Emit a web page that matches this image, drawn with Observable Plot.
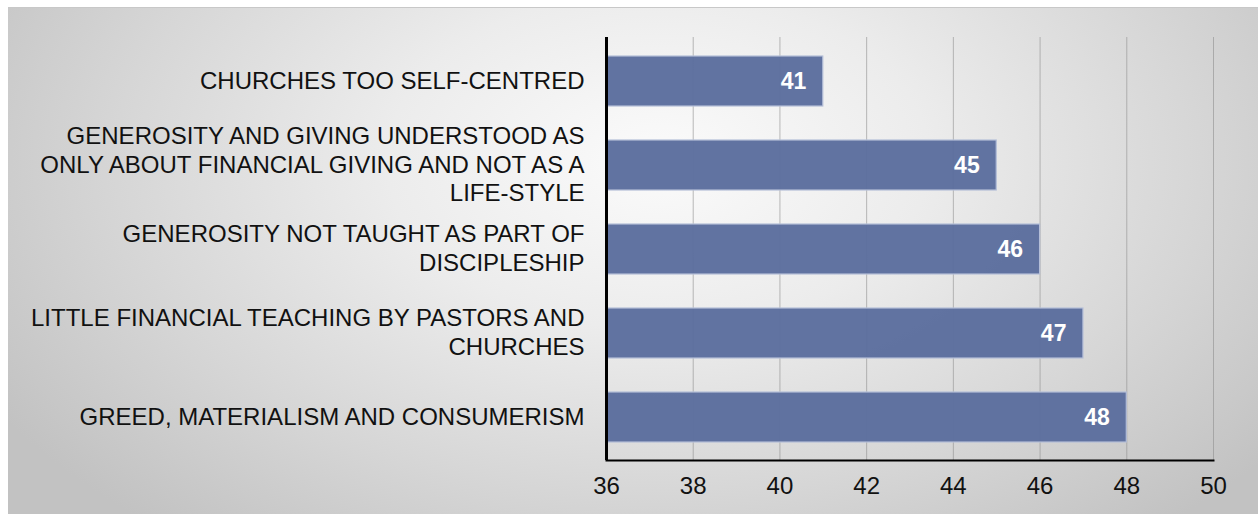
<!DOCTYPE html>
<html>
<head>
<meta charset="utf-8">
<script src="https://cdn.jsdelivr.net/npm/d3@7"></script>
<script src="https://cdn.jsdelivr.net/npm/@observablehq/plot@0.6"></script>
<style>
  html, body { margin: 0; padding: 0; background: #fff; }
  #wrap { position: relative; width: 1258px; height: 514px; overflow: hidden; }
  #bg { position: absolute; left: 8px; top: 7px; width: 1250px; height: 507px;
        border-top: 1px solid #c8c8c8;
        background: radial-gradient(ellipse 62% 95% at 52% 30%, #fbfbfb 0%, #ececec 35%, #d6d6d6 70%, #c2c2c2 100%); }
  #chart { position: absolute; left: 0; top: 0; }
  #chart svg { background: transparent; }
  #chart svg text { font-family: 'Liberation Sans', Arial, sans-serif; }
</style>
</head>
<body>
<div id="wrap"><div id="bg"></div><div id="chart"></div></div>
<script>
const categories = [
  "CHURCHES TOO SELF-CENTRED",
  "GENEROSITY AND GIVING UNDERSTOOD AS\nONLY ABOUT FINANCIAL GIVING AND NOT AS A\nLIFE-STYLE",
  "GENEROSITY NOT TAUGHT AS PART OF\nDISCIPLESHIP",
  "LITTLE FINANCIAL TEACHING BY PASTORS AND\nCHURCHES",
  "GREED, MATERIALISM AND CONSUMERISM"
];
const values = [41, 45, 46, 47, 48];
const xTicks = [36, 38, 40, 42, 44, 46, 48, 50];

const data = categories.map((c, i) => ({category: c, value: values[i]}));
const font = "Liberation Sans";

const chart = Plot.plot({
  width: 1258,
  height: 514,
  marginLeft: 606,
  marginRight: 45,
  marginTop: 37,
  marginBottom: 54,
  style: {background: "transparent", fontFamily: font, color: "#111"},
  x: {domain: [36, 50], ticks: xTicks},
  y: {domain: categories, paddingInner: 0.41, paddingOuter: 0.205},
  marks: [
    Plot.gridX(xTicks, {stroke: "#909090", strokeOpacity: 0.6, strokeWidth: 1}),
    Plot.barX(data, {x1: 36, x2: "value", y: "category", fill: "#5c6e9e", fillOpacity: 0.97, stroke: "#b4bed8", strokeWidth: 1.2}),
    Plot.text(data, {x: "value", y: "category", text: d => String(d.value), textAnchor: "end", dx: -17, fill: "white", fontWeight: "bold", fontSize: 23, fontFamily: font}),
    Plot.axisX({ticks: xTicks, tickSize: 0, tickPadding: 16, fontSize: 24, fontFamily: font, label: null, fill: "#111"}),
    Plot.axisY({tickSize: 0, tickPadding: 22, fontSize: 24, fontFamily: font, lineHeight: 1.19, dy: -2, label: null, fill: "#111"}),
    Plot.frame({anchor: "bottom", stroke: "#000", strokeWidth: 2}),
    Plot.ruleX([36], {stroke: "#000", strokeWidth: 3})
  ]
});
document.getElementById("chart").appendChild(chart);
</script>
</body>
</html>
